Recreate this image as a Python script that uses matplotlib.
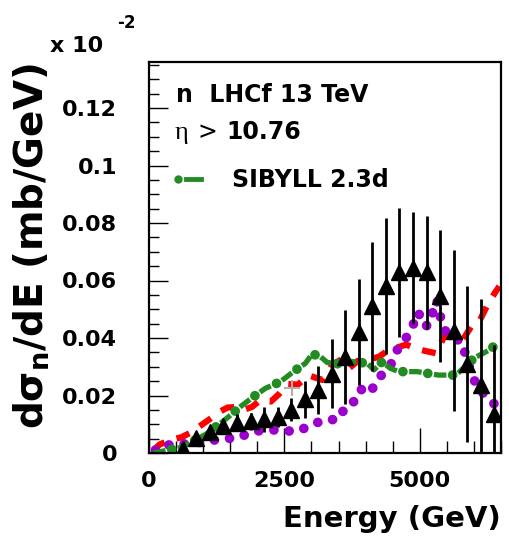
import numpy as np
import matplotlib
matplotlib.use("Agg")
import matplotlib.pyplot as plt

plt.rcParams["font.family"] = ["DejaVu Sans"]
plt.rcParams["font.weight"] = "bold"
plt.rcParams["mathtext.fontset"] = "custom"
plt.rcParams["mathtext.rm"] = "DejaVu Sans:bold"
plt.rcParams["mathtext.it"] = "DejaVu Sans:bold"
plt.rcParams["mathtext.bf"] = "DejaVu Sans:bold"
plt.rcParams["lines.scale_dashes"] = False

# LHCf data points (units of 1e-2 mb/GeV)
data_x = [625, 875, 1125, 1375, 1625, 1875, 2125, 2375, 2625, 2875, 3125, 3375,
          3625, 3875, 4125, 4375, 4625, 4875, 5125, 5375, 5625, 5875, 6125, 6375]
data_y = [0.0015, 0.0052, 0.0072, 0.0095, 0.0105, 0.011, 0.0117, 0.0126, 0.015, 0.0187,
          0.0218, 0.0275, 0.0335, 0.042, 0.051, 0.058, 0.0628, 0.0643, 0.0628, 0.0545,
          0.0425, 0.031, 0.0237, 0.0136]
data_err = [0.0015, 0.0015, 0.002, 0.0025, 0.003, 0.003, 0.0043, 0.0035, 0.004, 0.0064,
            0.0083, 0.012, 0.0163, 0.0185, 0.0225, 0.0236, 0.0225, 0.0196, 0.0196, 0.023,
            0.028, 0.027, 0.03, 0.024]

# red dashed model
red_x = [80, 200, 400, 600, 760, 950, 1100, 1300, 1450, 1600, 1750, 1900, 2050, 2250,
         2400, 2550, 2750, 2950, 3200, 3400, 3550, 3700, 3850, 4050, 4250, 4400, 4600,
         4750, 4900, 5100, 5300, 5450, 5650, 5800, 5950, 6100, 6250, 6400, 6470]
red_y = [0.001, 0.003, 0.0045, 0.0055, 0.007, 0.0095, 0.0115, 0.0143, 0.0158, 0.016,
         0.015, 0.016, 0.0183, 0.0179, 0.0205, 0.024, 0.0238, 0.027, 0.0254, 0.031,
         0.0325, 0.0295, 0.032, 0.0325, 0.0335, 0.0355, 0.0368, 0.0377, 0.0365, 0.0355,
         0.0347, 0.0405, 0.0402, 0.0395, 0.044, 0.0458, 0.0515, 0.0561, 0.058]

# purple dotted model
purple_x = [120, 235, 480, 760, 1068, 1346, 1624, 1902, 2148, 2426, 2704, 2950, 3216,
            3506, 3640, 3846, 3957, 4130, 4270, 4470, 4574, 4741, 4865, 4970, 5093, 5191,
            5254, 5315, 5377, 5450, 5650, 5800, 5852, 5976, 6060, 6290, 6420]
purple_y = [0.001, 0.0028, 0.0028, 0.0034, 0.0039, 0.0051, 0.0051, 0.0074, 0.008, 0.008,
            0.0074, 0.0092, 0.0115, 0.0117, 0.0167, 0.0184, 0.0237, 0.0225, 0.0266, 0.031,
            0.0356, 0.0398, 0.044, 0.049, 0.044, 0.0449, 0.0503, 0.0532, 0.0477, 0.0428,
            0.04, 0.0382, 0.033, 0.0271, 0.0225, 0.019, 0.016]

# SIBYLL 2.3d (green dash-dot)
green_x = [80, 350, 600, 800, 1050, 1300, 1469, 1700, 1932, 2150, 2426, 2667, 2889, 3013,
           3167, 3290, 3500, 3750, 4031, 4154, 4309, 4450, 4611, 4772, 4957, 5142, 5346,
           5513, 5667, 5907, 6000, 6284, 6439]
green_y = [0.0, 0.001, 0.002, 0.004, 0.0065, 0.01, 0.0126, 0.0163, 0.0196, 0.0225, 0.0248,
           0.0283, 0.0312, 0.0345, 0.0335, 0.0315, 0.031, 0.0318, 0.0312, 0.0289, 0.0318,
           0.0295, 0.0283, 0.0283, 0.0283, 0.0277, 0.0271, 0.0271, 0.0271, 0.0313, 0.033,
           0.0358, 0.0382]

cursor_x, cursor_y = [2642], [0.0226]

W, H = 509, 537
fig = plt.figure(figsize=(W / 100, H / 100), dpi=100)
ax = fig.add_axes([149 / W, (H - 453) / H, (501 - 149) / W, (453 - 62) / H])

GREEN = "#228b22"
ax.plot(red_x, red_y, color="#ff0000", lw=4.5, linestyle=(0, (10, 9)),
        dash_capstyle="butt", solid_joinstyle="round")
ax.plot(purple_x, purple_y, color="#9b00cc", lw=7, linestyle=(0, (0.01, 11)),
        dash_capstyle="round")
ax.plot(green_x, green_y, color=GREEN, lw=3.8, linestyle=(0, (9, 9)),
        dash_capstyle="butt")
ax.plot(green_x, green_y, color=GREEN, lw=7, linestyle=(4.5, (0.01, 17.99)),
        dash_capstyle="round")
ax.errorbar(data_x, data_y, yerr=data_err, fmt="^", color="black", ms=11,
            elinewidth=2, capsize=0)
ax.plot(cursor_x, cursor_y, "+", color="#b0b0b0", ms=12, mew=1.5)

ax.set_xlim(0, 6500)
ax.set_ylim(0, 0.136)
ax.set_xticks([0, 2500, 5000])
ax.set_xticks(np.arange(0, 6501, 500), minor=True)
ax.set_yticks(np.arange(0, 0.121, 0.02))
ax.set_yticks(np.arange(0, 0.136, 0.005), minor=True)
ax.set_xticklabels(["0", "2500", "5000"])
ax.set_yticklabels(["0", "0.02", "0.04", "0.06", "0.08", "0.1", "0.12"])
ax.tick_params(axis="both", which="both", direction="in", labelsize=16, width=1)
ax.tick_params(axis="x", which="major", length=18, pad=13)
ax.tick_params(axis="x", which="minor", length=9)
ax.tick_params(axis="y", which="major", length=14, pad=23)
ax.tick_params(axis="y", which="minor", length=7)
for s in ax.spines.values():
    s.set_linewidth(1.6)

fig.text(501 / W, 1 - 527 / H, "Energy (GeV)", ha="right", va="baseline", fontsize=21)
fig.text(32 / W, 1 - 63 / H, r"d$\sigma_n$/dE (mb/GeV)", rotation=90,
         ha="center", va="top", fontsize=28)
fig.text(50 / W, 1 - 52 / H, "x 10", ha="left", va="baseline", fontsize=16)
fig.text(117 / W, 1 - 28 / H, "-2", ha="left", va="baseline", fontsize=12)

fig.text(176 / W, 1 - 102 / H, "n  LHCf 13 TeV", ha="left", va="baseline", fontsize=17)
fig.text(175 / W, 1 - 139 / H, "η", ha="left", va="baseline", fontsize=19,
         family="Liberation Serif", weight="normal")
fig.text(198 / W, 1 - 139 / H, ">", ha="left", va="baseline", fontsize=17,
         weight="normal")
fig.text(226 / W, 1 - 139 / H, "10.76", ha="left", va="baseline", fontsize=17)
fig.text(232 / W, 1 - 187 / H, "SIBYLL 2.3d", ha="left", va="baseline", fontsize=17)
fig.lines.append(plt.Line2D([177.7 / W], [1 - 179.3 / H], marker="o", ms=5,
                            color=GREEN, transform=fig.transFigure))
fig.lines.append(plt.Line2D([186 / W, 201 / W], [1 - 179.3 / H] * 2, lw=3.5,
                            color=GREEN, transform=fig.transFigure))

fig.savefig("out.png", dpi=100)
